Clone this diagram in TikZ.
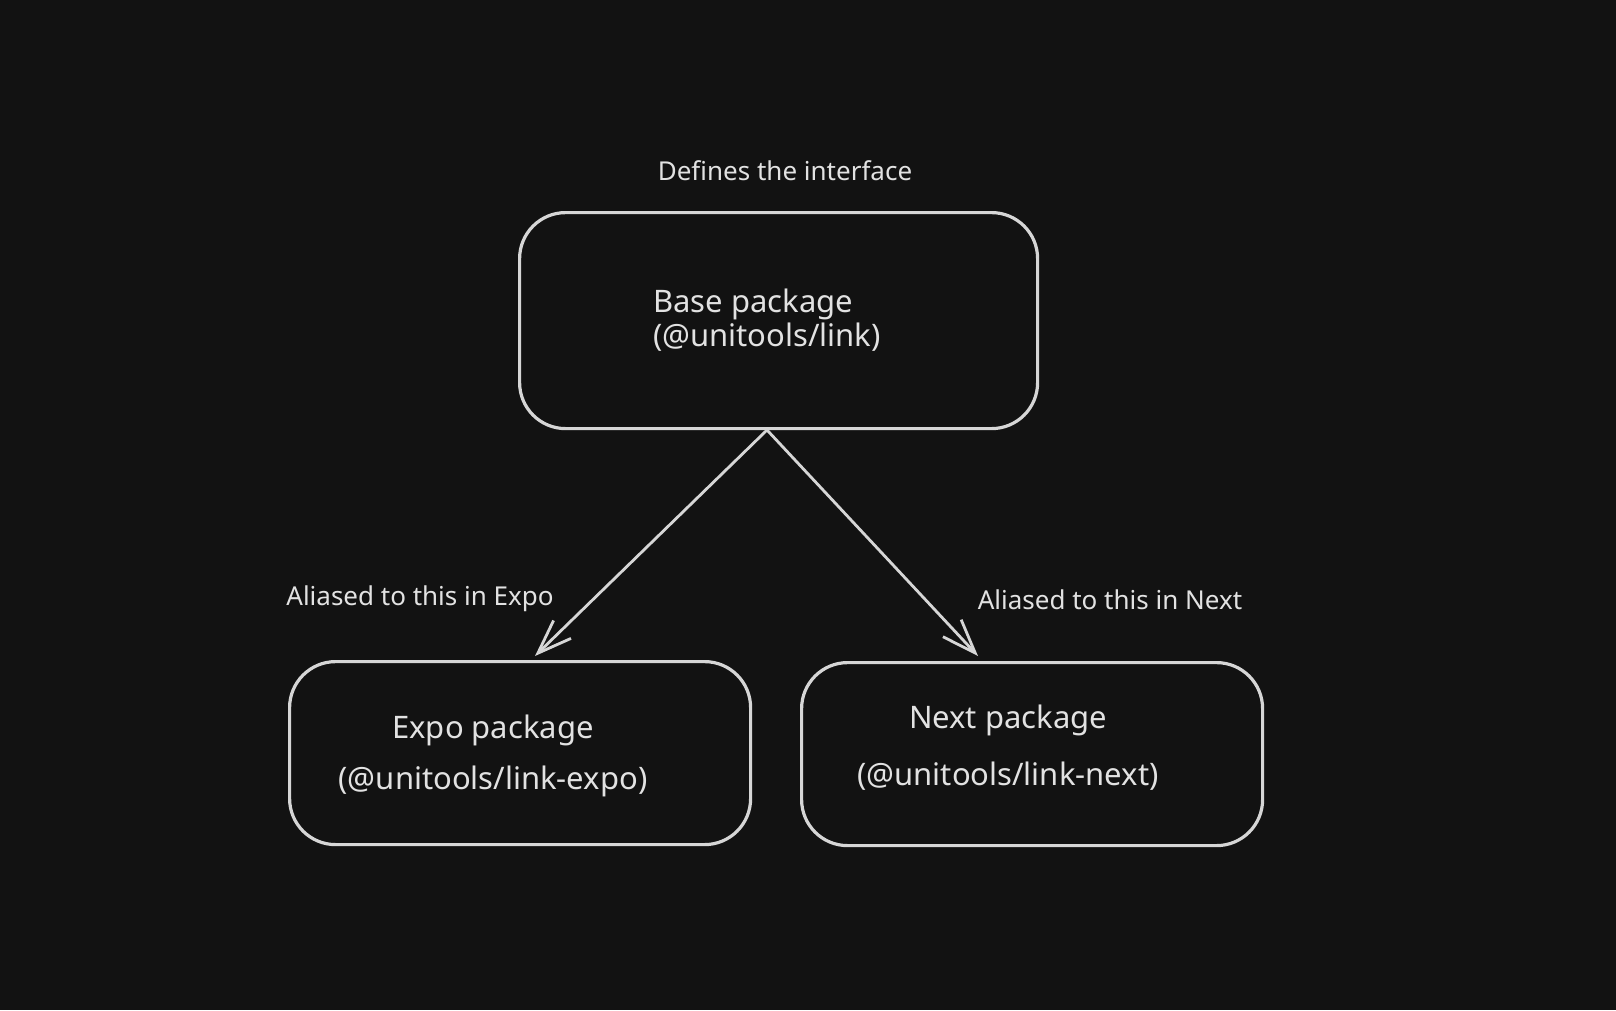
\documentclass[tikz,border=0pt]{standalone}
\usepackage{fontspec}
\setmainfont{Noto Sans}
\usetikzlibrary{arrows.meta}
\definecolor{bg}{HTML}{121212}
\definecolor{ink}{HTML}{D6D6D6}
\definecolor{txt}{HTML}{E2E2E2}
\begin{document}
\begin{tikzpicture}[x=1pt,y=-1pt,
  box/.style={draw=ink, line width=3.2pt, rounded corners=46pt, fill=bg, inner sep=0pt, anchor=north west},
  boxtext/.style={text=txt, font=\fontsize{31}{37}\selectfont, inner sep=0pt},
  lbl/.style={text=txt, font=\fontsize{26}{32}\selectfont, inner sep=0pt, anchor=base},
  arr/.style={draw=ink, line width=2.8pt, line cap=round, -{Straight Barb[length=34pt,width=25pt,line width=2.8pt]}}]
\useasboundingbox[fill=bg] (0,0) rectangle (1616,1010);
% boxes
\node[box, minimum width=518pt, minimum height=216pt] (base) at (518,211) {};
\node[box, minimum width=461pt, minimum height=183pt] (expo) at (288,660) {};
\node[box, minimum width=461pt, minimum height=183pt] (next) at (800,661) {};
% box texts
\node[boxtext, anchor=base west] (baseA) at (653,312) {Base package};
\node[boxtext, anchor=base west] (baseB) at (653,346) {(@unitools/link)};
\node[boxtext, anchor=base] (expoA) at (493,738) {Expo package};
\node[boxtext, anchor=base] (expoB) at (493,789) {(@unitools/link-expo)};
\node[boxtext, anchor=base] (nextA) at (1008,728) {Next package};
\node[boxtext, anchor=base] (nextB) at (1008,785) {(@unitools/link-next)};
% labels
\node[lbl] (ldef) at (785,180) {Defines the interface};
\node[lbl] (lexpo) at (420,605) {Aliased to this in Expo};
\node[lbl] (lnext) at (1110,609) {Aliased to this in Next};
% connectors
\coordinate (src) at (767,430);
\coordinate (toexpo) at (535,656);
\coordinate (tonext) at (978,656);
\draw[arr] (src) -- (toexpo);
\draw[arr] (src) -- (tonext);
\end{tikzpicture}
\end{document}
